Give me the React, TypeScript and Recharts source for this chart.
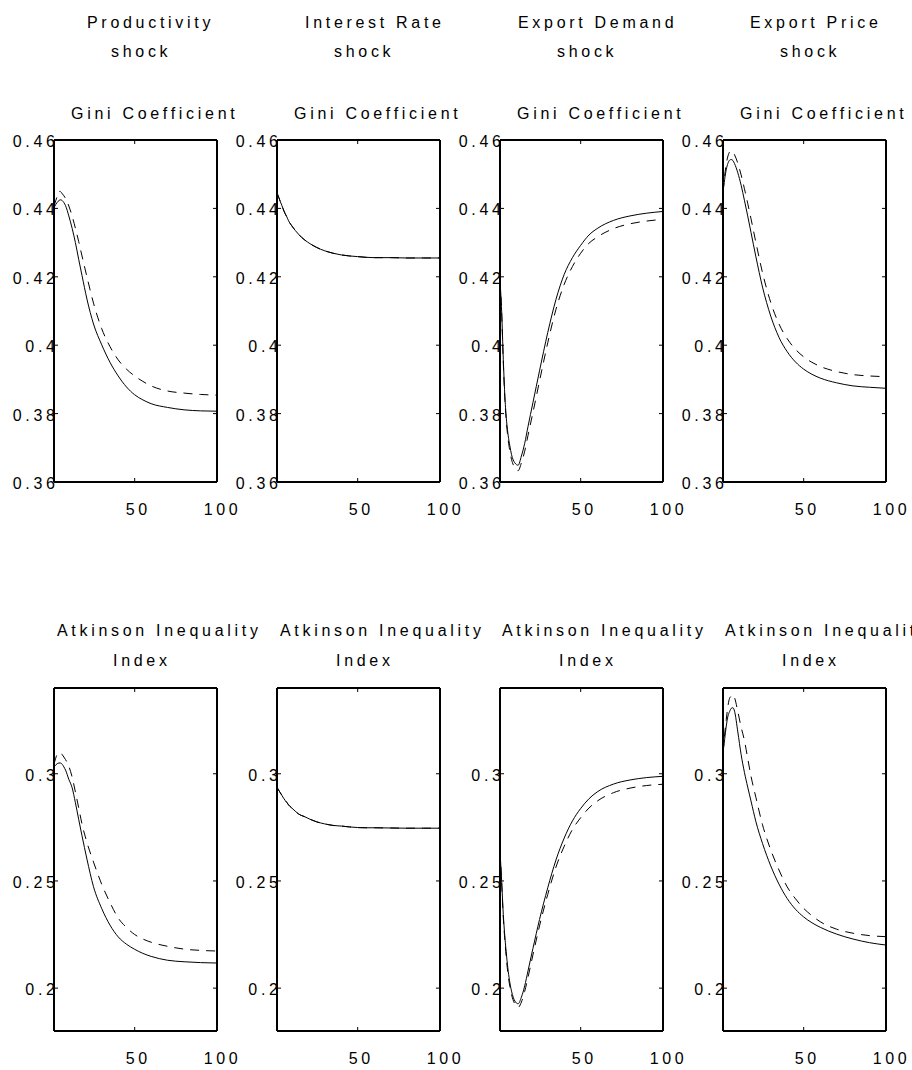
import React from "react"
import { LineChart, Line, XAxis, YAxis } from "recharts"

// periods after the shock (x axis); values at these points
const periods = [1, 2, 3, 4, 5, 6, 7, 8, 10, 12, 14, 16, 18, 21, 25, 30, 35, 40, 45, 50, 55, 60, 70, 80, 90, 100]

// Gini coefficient, solid and dashed line per shock
const giniProductivitySolid = [0.4402, 0.4411, 0.4418, 0.4423, 0.4425, 0.4423, 0.4417, 0.4408, 0.4378, 0.4342, 0.43, 0.4251, 0.4204, 0.4135, 0.4062, 0.4001, 0.395, 0.391, 0.3878, 0.3855, 0.384, 0.3829, 0.3818, 0.3811, 0.3808, 0.3807]
const giniProductivityDashed = [0.4407, 0.4422, 0.4436, 0.445, 0.4449, 0.4443, 0.4437, 0.4429, 0.4407, 0.4378, 0.4342, 0.4303, 0.4261, 0.42, 0.4123, 0.4048, 0.3996, 0.3957, 0.393, 0.391, 0.3894, 0.3881, 0.3866, 0.386, 0.3856, 0.3854]
const giniInterestSolid = [0.4445, 0.4433, 0.442, 0.4408, 0.4395, 0.4384, 0.4375, 0.4364, 0.4349, 0.4336, 0.4325, 0.4315, 0.4307, 0.4297, 0.4286, 0.4276, 0.4269, 0.4264, 0.4261, 0.4259, 0.4257, 0.4256, 0.4256, 0.4255, 0.4255, 0.4255]
const giniInterestDashed = [0.4445, 0.4433, 0.442, 0.4408, 0.4395, 0.4384, 0.4375, 0.4364, 0.4349, 0.4336, 0.4325, 0.4315, 0.4307, 0.4297, 0.4286, 0.4276, 0.4269, 0.4264, 0.4261, 0.4259, 0.4257, 0.4256, 0.4256, 0.4255, 0.4255, 0.4255]
const giniDemandSolid = [0.4188, 0.41, 0.3959, 0.3847, 0.3778, 0.3735, 0.3705, 0.368, 0.3656, 0.3649, 0.3676, 0.3713, 0.3762, 0.3832, 0.3925, 0.4037, 0.4134, 0.4207, 0.4256, 0.4292, 0.4322, 0.4341, 0.4365, 0.4378, 0.4386, 0.4391]
const giniDemandDashed = [0.4188, 0.4095, 0.395, 0.3838, 0.3768, 0.3722, 0.369, 0.3666, 0.3642, 0.3633, 0.3656, 0.369, 0.3736, 0.3803, 0.3895, 0.4007, 0.4105, 0.4178, 0.423, 0.4269, 0.4298, 0.4316, 0.4341, 0.4355, 0.4363, 0.4368]
const giniPriceSolid = [0.4447, 0.4485, 0.4514, 0.4532, 0.4541, 0.4543, 0.454, 0.4531, 0.4504, 0.4468, 0.4424, 0.4378, 0.433, 0.4258, 0.417, 0.4085, 0.4023, 0.3981, 0.3951, 0.393, 0.3915, 0.3904, 0.389, 0.3881, 0.3877, 0.3874]
const giniPriceDashed = [0.4447, 0.4495, 0.453, 0.4553, 0.4565, 0.4569, 0.4566, 0.4557, 0.4532, 0.4498, 0.4458, 0.4415, 0.437, 0.43, 0.4212, 0.4125, 0.4062, 0.4019, 0.3988, 0.3966, 0.395, 0.3938, 0.3923, 0.3914, 0.391, 0.3908]

// Atkinson inequality index
const atkProductivitySolid = [0.3033, 0.3041, 0.3047, 0.305, 0.305, 0.3044, 0.3032, 0.3017, 0.2974, 0.2935, 0.2865, 0.2787, 0.2711, 0.2602, 0.2473, 0.2371, 0.2294, 0.2239, 0.2205, 0.2181, 0.2162, 0.2148, 0.213, 0.2123, 0.2119, 0.2117]
const atkProductivityDashed = [0.3044, 0.3072, 0.3091, 0.3098, 0.3097, 0.3089, 0.3078, 0.3066, 0.3035, 0.2985, 0.2915, 0.2841, 0.2766, 0.268, 0.2588, 0.2484, 0.2399, 0.2327, 0.2283, 0.225, 0.2229, 0.2214, 0.2195, 0.2182, 0.2176, 0.2173]
const atkInterestSolid = [0.2936, 0.2924, 0.2911, 0.2899, 0.2886, 0.2875, 0.2866, 0.2855, 0.284, 0.2826, 0.2813, 0.2805, 0.2799, 0.2788, 0.2776, 0.2766, 0.2759, 0.2756, 0.2752, 0.2749, 0.2748, 0.2748, 0.2747, 0.2746, 0.2746, 0.2746]
const atkInterestDashed = [0.2936, 0.2924, 0.2911, 0.2899, 0.2886, 0.2875, 0.2866, 0.2855, 0.284, 0.2826, 0.2813, 0.2805, 0.2799, 0.2788, 0.2776, 0.2766, 0.2759, 0.2756, 0.2752, 0.2749, 0.2748, 0.2748, 0.2747, 0.2746, 0.2746, 0.2746]
const atkDemandSolid = [0.264, 0.25, 0.2344, 0.2235, 0.215, 0.2078, 0.2025, 0.1986, 0.194, 0.1927, 0.1958, 0.201, 0.208, 0.2185, 0.232, 0.2468, 0.2598, 0.27, 0.278, 0.2838, 0.2883, 0.2915, 0.2952, 0.2971, 0.2982, 0.2988]
const atkDemandDashed = [0.264, 0.2492, 0.2329, 0.2218, 0.2127, 0.2058, 0.2007, 0.197, 0.1926, 0.191, 0.1935, 0.1985, 0.205, 0.2155, 0.229, 0.2437, 0.2565, 0.2662, 0.274, 0.2795, 0.284, 0.2872, 0.2912, 0.2933, 0.2945, 0.2951]
const atkPriceSolid = [0.3098, 0.3161, 0.3223, 0.3269, 0.329, 0.3305, 0.3308, 0.3292, 0.3195, 0.309, 0.3007, 0.2938, 0.2873, 0.2776, 0.2675, 0.257, 0.2485, 0.2418, 0.2368, 0.2332, 0.2305, 0.2284, 0.2252, 0.2229, 0.2212, 0.2201]
const atkPriceDashed = [0.3098, 0.3184, 0.3254, 0.3316, 0.3352, 0.3362, 0.3369, 0.3355, 0.329, 0.3218, 0.3156, 0.3072, 0.2989, 0.2889, 0.2762, 0.2645, 0.2551, 0.2472, 0.2417, 0.2372, 0.2338, 0.231, 0.2275, 0.2256, 0.2245, 0.224]

const shockNames = ["Productivity", "Interest Rate", "Export Demand", "Export Price"]
const giniTicks = [0.36, 0.38, 0.4, 0.42, 0.44, 0.46]
const atkTicks = [0.2, 0.25, 0.3]
const xTicks = [50, 100]

const FONT = '"Liberation Sans", Arial, Helvetica, sans-serif'
const SPACING = 3.7
const PLOT_LEFT = [54, 277, 500, 723]
const PLOT_W = 163
const ML = 48, MR = 26, MT = 8, MB = 44

const rows = (solid: number[], dashed: number[]) =>
  periods.map((t, i) => ({ t, solid: solid[i], dashed: dashed[i] }))

function XTick(props: any) {
  const { x, y, payload, plotH } = props
  const label = String(payload.value)
  return (
    <g>
      <line x1={x} x2={x} y1={y} y2={y - 4} stroke="#000" />
      <line x1={x} x2={x} y1={y - plotH} y2={y - plotH + 4} stroke="#000" />
      <text x={x - label.length * 4.45} y={y + 33} fontSize={16} fontFamily={FONT} letterSpacing={SPACING} fill="#000">
        {label}
      </text>
    </g>
  )
}

function YTick(props: any) {
  const { x, y, payload } = props
  return (
    <g>
      <line x1={x} x2={x + 4} y1={y} y2={y} stroke="#000" />
      <line x1={x + PLOT_W - 4} x2={x + PLOT_W} y1={y} y2={y} stroke="#000" />
      <text x={x + 4.7} y={y + 7} textAnchor="end" fontSize={16} fontFamily={FONT} letterSpacing={SPACING} fill="#000">
        {String(payload.value)}
      </text>
    </g>
  )
}

function Panel(props: { col: number; top: number; h: number; solid: number[]; dashed: number[]; domain: number[]; ticks: number[] }) {
  const { col, top, h, solid, dashed, domain, ticks } = props
  const axis = { stroke: "#000", strokeWidth: 2 }
  // every axis is 1px thick (recharts skips zero-sized axes), so the margins lose 1px each
  return (
    <div style={{ position: "absolute", left: PLOT_LEFT[col] - ML, top: top - MT }}>
      <LineChart
        width={PLOT_W + ML + MR}
        height={h + MT + MB}
        data={rows(solid, dashed)}
        margin={{ top: MT - 1, right: MR - 1, bottom: MB - 1, left: ML - 1 }}
      >
        <XAxis
          dataKey="t"
          type="number"
          domain={[1, 100]}
          ticks={xTicks}
          interval={0}
          height={1}
          tickSize={0}
          tickMargin={0}
          tickLine={false}
          axisLine={axis}
          tick={(p: any) => <XTick {...p} plotH={h} />}
        />
        <XAxis xAxisId="top" orientation="top" dataKey="t" type="number" domain={[1, 100]} height={1} tick={false} tickLine={false} axisLine={axis} />
        <YAxis
          type="number"
          domain={domain}
          ticks={ticks}
          interval={0}
          width={1}
          tickSize={0}
          tickMargin={0}
          tickLine={false}
          axisLine={axis}
          tick={(p: any) => <YTick {...p} />}
        />
        <YAxis yAxisId="right" orientation="right" type="number" domain={domain} width={1} tick={false} tickLine={false} axisLine={axis} />
        <Line type="monotone" dataKey="solid" stroke="#000" strokeWidth={1} dot={false} isAnimationActive={false} />
        <Line type="monotone" dataKey="dashed" stroke="#000" strokeWidth={1} strokeDasharray="9 7" dot={false} isAnimationActive={false} />
      </LineChart>
    </div>
  )
}

const giniPanels = [
  [giniProductivitySolid, giniProductivityDashed],
  [giniInterestSolid, giniInterestDashed],
  [giniDemandSolid, giniDemandDashed],
  [giniPriceSolid, giniPriceDashed],
]
const atkPanels = [
  [atkProductivitySolid, atkProductivityDashed],
  [atkInterestSolid, atkInterestDashed],
  [atkDemandSolid, atkDemandDashed],
  [atkPriceSolid, atkPriceDashed],
]

// title text left edges per column
const shockX = [87, 305, 518, 750]
const shockWordX = [111, 334, 557, 780]
const giniX = [71, 294, 517, 740]
const atkX = [57, 280, 502, 725]
const indexX = [113, 336, 559, 782]

export default function App() {
  const textProps = { fontSize: 16, fontFamily: FONT, letterSpacing: SPACING, fill: "#000" }
  return (
    <div style={{ position: "absolute", left: 0, top: 0, width: 912, height: 1070, overflow: "hidden", background: "#fff" }}>
      <svg width={912} height={1070} style={{ position: "absolute", left: 0, top: 0 }}>
        {shockNames.map((name, i) => (
          <g key={name}>
            <text x={shockX[i]} y={28} {...textProps}>{name}</text>
            <text x={shockWordX[i]} y={57} {...textProps}>shock</text>
            <text x={giniX[i]} y={119} {...textProps}>Gini Coefficient</text>
            <text x={atkX[i]} y={636} {...textProps}>Atkinson Inequality</text>
            <text x={indexX[i]} y={666} {...textProps}>Index</text>
          </g>
        ))}
      </svg>
      {giniPanels.map(([s, d], i) => (
        <Panel key={"g" + i} col={i} top={140} h={342} solid={s} dashed={d} domain={[0.36, 0.46]} ticks={giniTicks} />
      ))}
      {atkPanels.map(([s, d], i) => (
        <Panel key={"a" + i} col={i} top={688} h={343} solid={s} dashed={d} domain={[0.18, 0.34]} ticks={atkTicks} />
      ))}
    </div>
  )
}
